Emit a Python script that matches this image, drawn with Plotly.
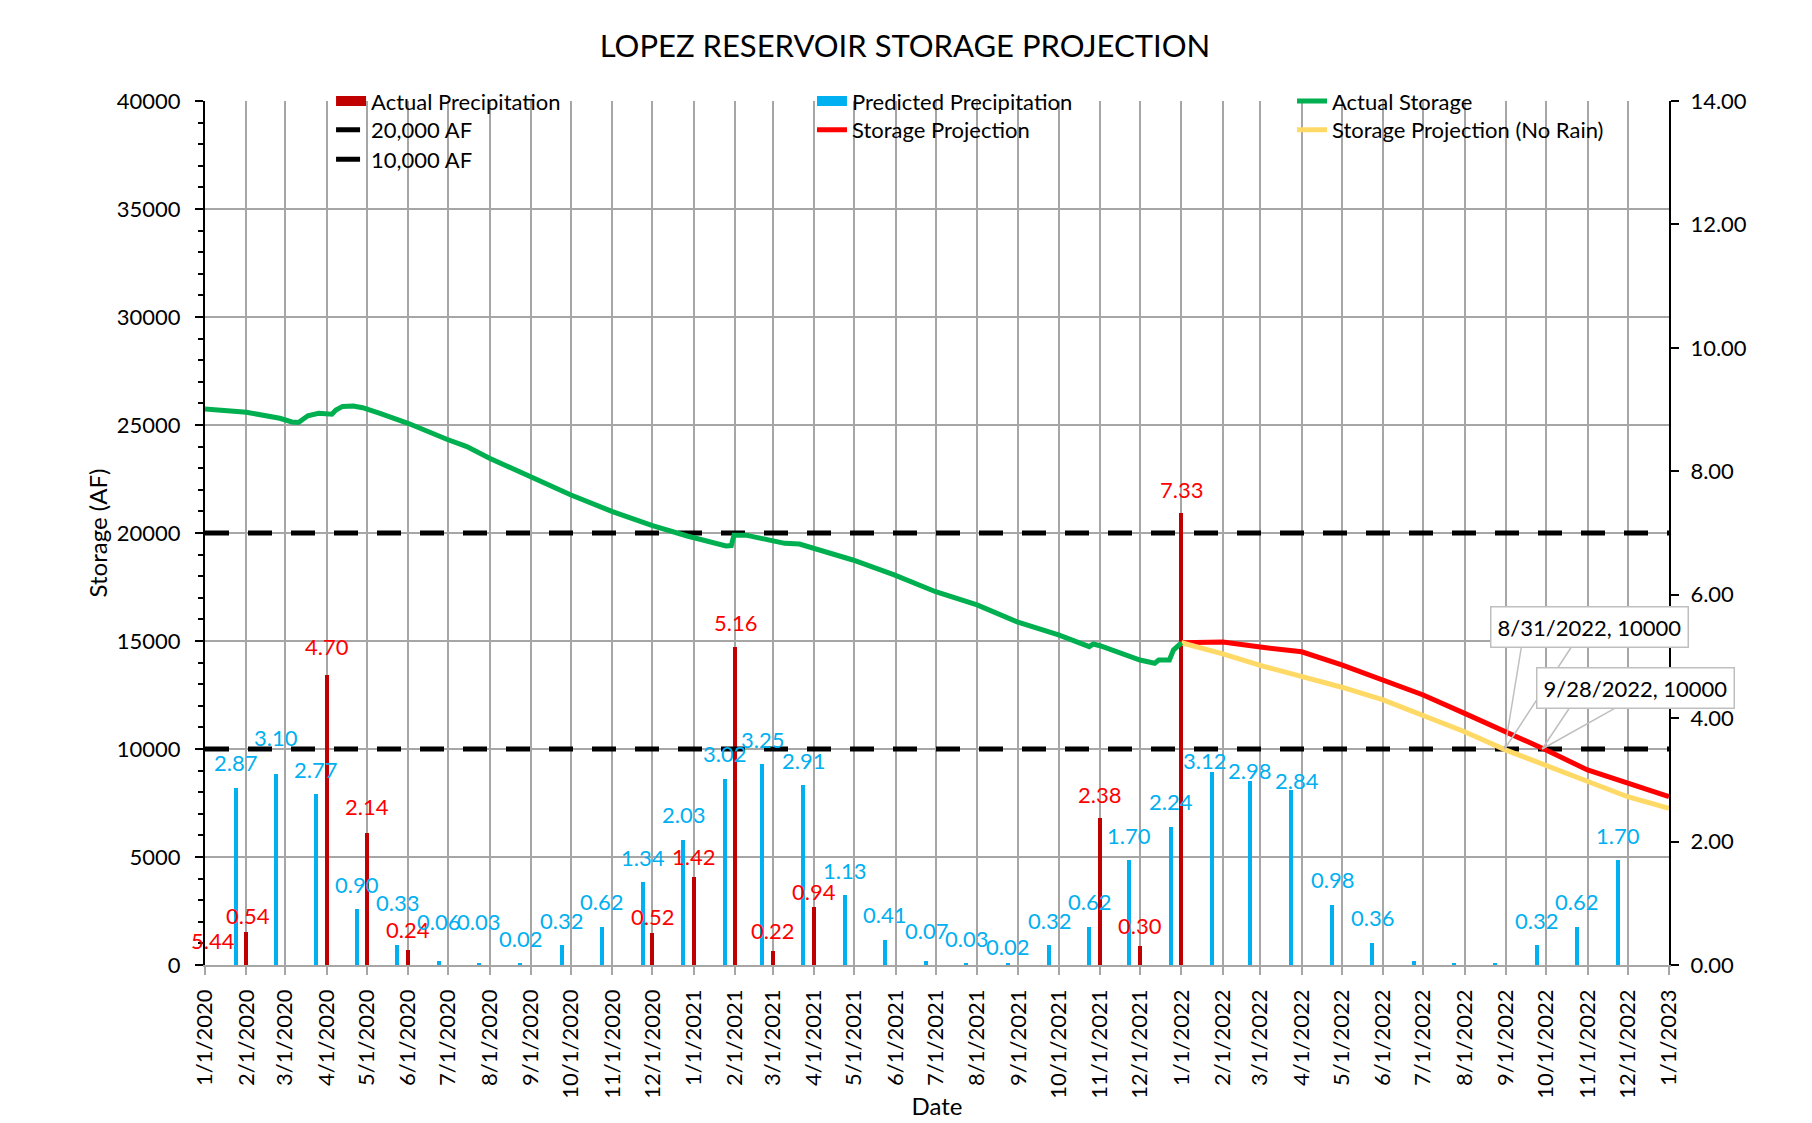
import plotly.graph_objects as go

# ---------------- data ----------------
storage_dates = ["2020-01-01", "2020-02-01", "2020-02-26", "2020-03-06", "2020-03-11", "2020-03-14",
                 "2020-03-18", "2020-03-26", "2020-04-05", "2020-04-08", "2020-04-13", "2020-04-21",
                 "2020-04-28", "2020-05-11", "2020-06-01", "2020-06-30", "2020-07-15", "2020-08-01",
                 "2020-08-31", "2020-10-01", "2020-11-01", "2020-12-01", "2020-12-27", "2021-01-25",
                 "2021-01-29", "2021-01-31", "2021-02-09", "2021-03-10", "2021-03-21", "2021-04-01",
                 "2021-04-30", "2021-05-31", "2021-07-01", "2021-08-01", "2021-08-31", "2021-10-01",
                 "2021-10-24", "2021-10-27", "2021-11-01", "2021-12-01", "2021-12-12", "2021-12-15",
                 "2021-12-23", "2021-12-26", "2022-01-01"]
storage_values = [25740, 25590, 25310, 25140, 25120, 25230,
                  25430, 25540, 25500, 25690, 25860, 25880,
                  25800, 25540, 25080, 24340, 24000, 23460,
                  22610, 21760, 20990, 20340, 19860, 19400,
                  19420, 19900, 19900, 19520, 19490, 19290,
                  18750, 18060, 17280, 16670, 15890, 15280,
                  14740, 14860, 14780, 14120, 13970, 14120,
                  14120, 14580, 14920]

proj_dates = ["2022-01-01", "2022-02-01", "2022-03-01", "2022-04-01", "2022-05-01", "2022-06-01",
              "2022-07-01", "2022-08-01", "2022-09-01", "2022-10-01", "2022-11-01", "2022-12-01",
              "2023-01-01"]
proj_values = [14920, 14950, 14720, 14500, 13890, 13190, 12500, 11650, 10800, 9950, 9030, 8410, 7790]
norain_values = [14920, 14400, 13870, 13380, 12860, 12270, 11570, 10800, 9950, 9230, 8490, 7790, 7250]

actual_precip_dates = ["2020-02-01", "2020-04-01", "2020-05-01", "2020-06-01", "2020-12-01",
                       "2021-01-01", "2021-02-01", "2021-03-01", "2021-04-01", "2021-11-01",
                       "2021-12-01", "2022-01-01"]
actual_precip_values = [0.54, 4.70, 2.14, 0.24, 0.52, 1.42, 5.16, 0.22, 0.94, 2.38, 0.30, 7.33]
offscale_label_date = "2020-01-01"
offscale_label_value = 5.44

pred_precip_dates = ["2020-01-24", "2020-02-23", "2020-03-24", "2020-04-24", "2020-05-24", "2020-06-24",
                     "2020-07-24", "2020-08-24", "2020-09-24", "2020-10-24", "2020-11-24", "2020-12-24",
                     "2021-01-24", "2021-02-21", "2021-03-24", "2021-04-24", "2021-05-24", "2021-06-24",
                     "2021-07-24", "2021-08-24", "2021-09-24", "2021-10-24", "2021-11-23", "2021-12-24",
                     "2022-01-24", "2022-02-21", "2022-03-24", "2022-04-24", "2022-05-24", "2022-06-24",
                     "2022-07-24", "2022-08-24", "2022-09-24", "2022-10-24", "2022-11-24"]
pred_precip_values = [2.87, 3.10, 2.77, 0.90, 0.33, 0.06, 0.03, 0.02, 0.32, 0.62, 1.34, 2.03,
                      3.02, 3.25, 2.91, 1.13, 0.41, 0.07, 0.03, 0.02, 0.32, 0.62, 1.70, 2.24,
                      3.12, 2.98, 2.84, 0.98, 0.36, 0.07, 0.03, 0.02, 0.32, 0.62, 1.70]
pred_unlabeled_dates = ["2022-06-24", "2022-07-24", "2022-08-24"]

threshold_values = [20000, 10000]
threshold_names = ["20,000 AF", "10,000 AF"]
x_start, x_end = "2020-01-01", "2023-01-01"

callout_dates = ["2022-08-31", "2022-09-28"]
callout_values = [10000, 10000]

# ---------------- style ----------------
FONT = "Lato, 'Open Sans', sans-serif"
GRID = "#A6A6A6"
BAR_W = 3 * 86400000
RED_BAR, BLUE_BAR = "#C00000", "#00B0F0"
CALLOUT_EDGE = "#BFBFBF"

# manual nudges (px) of individual data labels, as placed in the original chart
label_nudge = {
    ("a", "2020-02-01"): (2, -5), ("a", "2020-04-01"): (0, 7), ("a", "2020-05-01"): (0, 5),
    ("a", "2020-12-01"): (0, -5), ("a", "2021-04-01"): (0, -6), ("a", "2021-11-01"): (0, 3),
    ("a", "2022-01-01"): (0, 2), ("a", "2021-02-01"): (0, 3),
    ("p", "2020-02-23"): (0, 11), ("p", "2020-05-24"): (0, 17), ("p", "2020-06-24"): (0, 15),
    ("p", "2020-07-24"): (0, 17), ("p", "2021-06-24"): (0, 5), ("p", "2021-08-24"): (0, -8),
    ("p", "2022-01-24"): (-8, -13), ("p", "2022-02-21"): (0, -14), ("p", "2022-03-24"): (6, -16),
}
# callout box centre offset and wedge base points (px, relative to the labelled point)
callout_layout = [
    dict(box=(85, 122), wedge=[(17, -104), (68, -104)]),
    dict(box=(93, 61), wedge=[(28, -42), (75, -42)]),
]

fig = go.Figure()

fig.add_trace(go.Bar(x=actual_precip_dates, y=actual_precip_values, width=BAR_W,
                     marker=dict(color=RED_BAR, line=dict(width=0)),
                     name="Actual Precipitation", yaxis="y", showlegend=False))
fig.add_trace(go.Bar(x=pred_precip_dates, y=pred_precip_values, width=BAR_W,
                     marker=dict(color=BLUE_BAR, line=dict(width=0)),
                     name="Predicted Precipitation", yaxis="y", showlegend=False))

# legend swatches for the bar series (wide filled bands like the original)
fig.add_trace(go.Scatter(x=[None], y=[None], mode="lines", line=dict(color=RED_BAR, width=14),
                         name="Actual Precipitation", yaxis="y", legend="legend"))
fig.add_trace(go.Scatter(x=[None], y=[None], mode="lines", line=dict(color=BLUE_BAR, width=14),
                         name="Predicted Precipitation", yaxis="y", legend="legend4"))

for val, nm, lg in zip(threshold_values, threshold_names, ["legend2", "legend3"]):
    fig.add_trace(go.Scatter(x=[x_start, x_end], y=[val, val], mode="lines",
                             line=dict(color="black", width=5, dash="24px,19px"),
                             name=nm, yaxis="y2", legend=lg))

fig.add_trace(go.Scatter(x=proj_dates, y=proj_values, mode="lines",
                         line=dict(color="#FF0000", width=5),
                         name="Storage Projection", yaxis="y2", legend="legend5"))
fig.add_trace(go.Scatter(x=proj_dates, y=norain_values, mode="lines",
                         line=dict(color="#FFD966", width=5),
                         name="Storage Projection (No Rain)", yaxis="y2", legend="legend7"))
fig.add_trace(go.Scatter(x=storage_dates, y=storage_values, mode="lines",
                         line=dict(color="#00B050", width=5),
                         name="Actual Storage", yaxis="y2", legend="legend6"))

annotations = []
for d, v in zip(actual_precip_dates, actual_precip_values):
    dx, dy = label_nudge.get(("a", d), (0, 0))
    annotations.append(dict(x=d, y=v, xref="x", yref="y", text=f"{v:.2f}", showarrow=False,
                            xshift=dx, yshift=21 + dy,
                            font=dict(color="#FF0000", size=22, family=FONT)))
for d, v in zip(pred_precip_dates, pred_precip_values):
    if d in pred_unlabeled_dates:
        continue
    dx, dy = label_nudge.get(("p", d), (0, 0))
    annotations.append(dict(x=d, y=v, xref="x", yref="y", text=f"{v:.2f}", showarrow=False,
                            xshift=dx, yshift=25 + dy,
                            font=dict(color="#00B0F0", size=22, family=FONT)))
annotations.append(dict(x=offscale_label_date, y=0, xref="x", yref="y",
                        text=f"{offscale_label_value:.2f}", showarrow=False, xshift=8, yshift=25,
                        font=dict(color="#FF0000", size=22, family=FONT)))

for d, v, lay in zip(callout_dates, callout_values, callout_layout):
    m, dd, yy = int(d[5:7]), int(d[8:10]), d[:4]
    for ax, ay in lay["wedge"]:
        annotations.append(dict(x=d, y=v, xref="x", yref="y2", text="", showarrow=True,
                                arrowhead=0, arrowwidth=1.5, arrowcolor=CALLOUT_EDGE,
                                ax=ax, ay=ay, standoff=0, startstandoff=0))
    bx, by = lay["box"]
    annotations.append(dict(x=d, y=v, xref="x", yref="y2", text=f"{m}/{dd}/{yy}, {v}",
                            showarrow=False, xshift=bx, yshift=by,
                            bgcolor="white", bordercolor=CALLOUT_EDGE, borderwidth=1.5,
                            borderpad=6, font=dict(color="black", size=22, family=FONT)))

legend_common = dict(bgcolor="rgba(0,0,0,0)", font=dict(size=22, family=FONT, color="black"),
                     xanchor="left", yanchor="top", orientation="v", itemwidth=30)
col_x = [0.0861, 0.4146, 0.7425]
row_y = [1.024, 0.9909, 0.9566]
legend_pos = {
    "legend": (col_x[0], row_y[0]), "legend2": (col_x[0], row_y[1]), "legend3": (col_x[0], row_y[2]),
    "legend4": (col_x[1], row_y[0]), "legend5": (col_x[1], row_y[1]),
    "legend6": (col_x[2], row_y[0]), "legend7": (col_x[2], row_y[1]),
}
legends = {k: dict(x=x, y=y, **legend_common) for k, (x, y) in legend_pos.items()}

fig.update_layout(
    width=1812, height=1123,
    margin=dict(l=197, r=151, t=93, b=166, autoexpand=False),
    paper_bgcolor="white", plot_bgcolor="white",
    font=dict(family=FONT, color="black", size=22),
    barmode="overlay", bargap=0,
    title=dict(text="LOPEZ RESERVOIR STORAGE PROJECTION", x=0.495, xref="container",
               xanchor="center", y=1 - 38 / 1123, yanchor="middle",
               font=dict(size=31, family=FONT, color="black")),
    xaxis=dict(type="date", range=[x_start, x_end], tick0=x_start, dtick="M1",
               tickformat="%-m/%-d/%Y", tickangle=-90, ticks="outside", ticklen=8,
               tickcolor=GRID, tickwidth=1.5, showgrid=True, gridcolor=GRID, gridwidth=1.5,
               showline=True, linecolor=GRID, linewidth=1.5, tickfont=dict(size=22),
               title=dict(text="Date", font=dict(size=24), standoff=0), ticklabelstandoff=6),
    yaxis=dict(range=[0, 14], dtick=2, tickformat=".2f", side="right", showgrid=False,
               ticks="outside", ticklen=8, tickcolor="black", tickwidth=1.5,
               showline=True, linecolor="black", linewidth=2, zeroline=False,
               tickfont=dict(size=22), ticklabelstandoff=7),
    yaxis2=dict(range=[0, 40000], dtick=5000, tickformat="d", side="left", overlaying="y",
                showgrid=True, gridcolor=GRID, gridwidth=1.5, zeroline=False,
                ticks="outside", ticklen=8, tickcolor="black", tickwidth=1.5,
                minor=dict(dtick=1000, ticks="outside", ticklen=5, tickcolor="black", showgrid=False),
                showline=True, linecolor="black", linewidth=2,
                tickfont=dict(size=22), ticklabelstandoff=10,
                title=dict(text="Storage (AF)", font=dict(size=24), standoff=2)),
    annotations=annotations,
    **legends,
)

fig.write_html("out.html")
